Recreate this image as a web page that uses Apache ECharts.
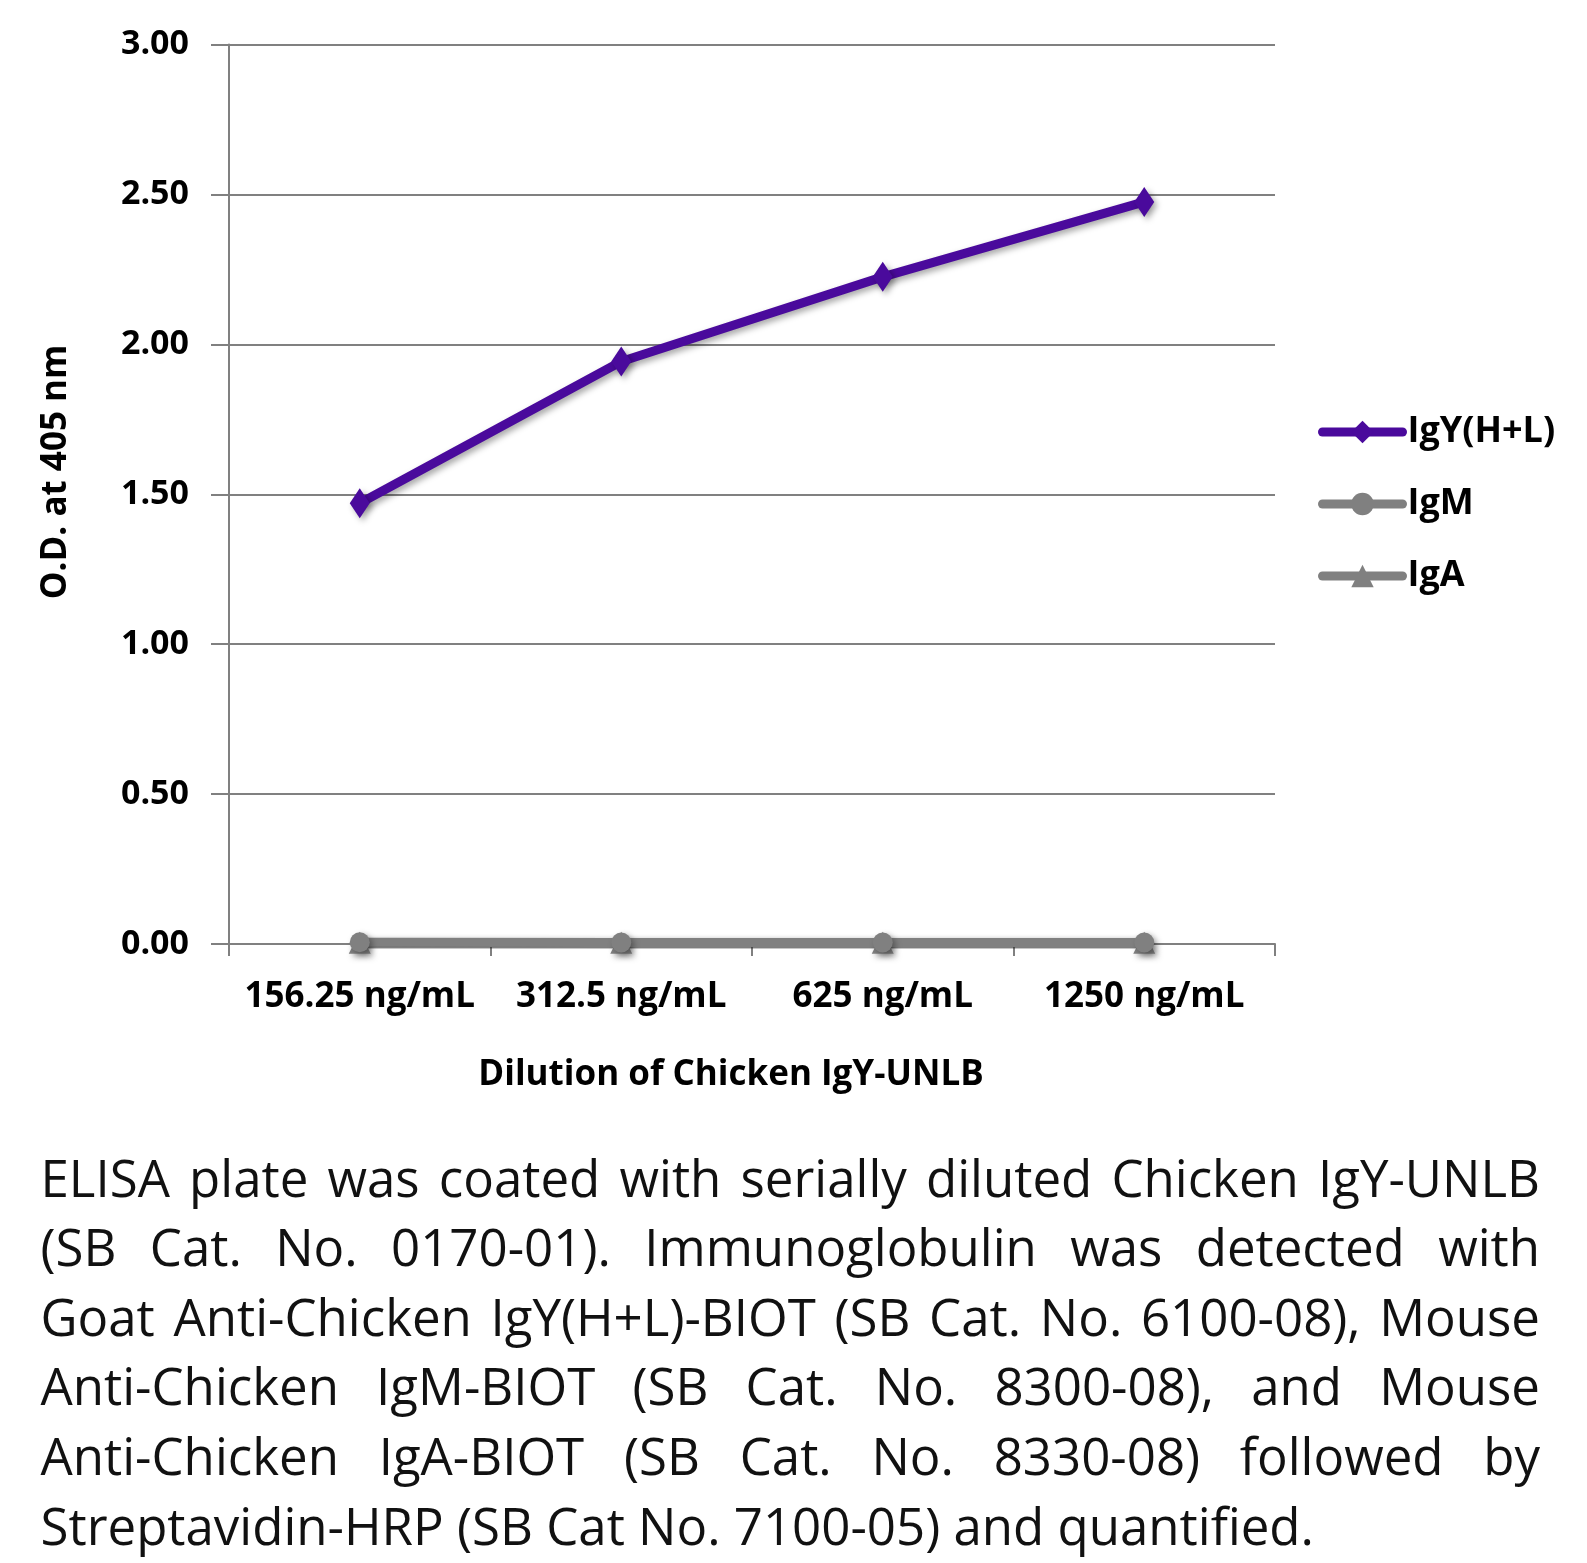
<!DOCTYPE html>
<html><head><meta charset="utf-8">
<script src="https://cdn.jsdelivr.net/npm/echarts@6/dist/echarts.min.js"></script>
<style>html,body{margin:0;padding:0;background:#fff}#c{width:1587px;height:1563px}</style>
</head><body><div id="c"></div>
<script>
const categories = ['156.25 ng/mL', '312.5 ng/mL', '625 ng/mL', '1250 ng/mL'];
const igyValues = [1.47, 1.943, 2.225, 2.475];
const igmValues = [0.006, 0.005, 0.005, 0.005];
const igaValues = [0.004, 0.004, 0.004, 0.004];
const seriesNames = ['IgY(H+L)', 'IgM', 'IgA'];
const yTicks = [0, 0.5, 1, 1.5, 2, 2.5, 3];
const xTitle = 'Dilution of Chicken IgY-UNLB';
const yTitle = 'O.D. at 405 nm';
const captionLines = [
  'ELISA plate was coated with serially diluted Chicken IgY-UNLB',
  '(SB Cat. No. 0170-01).  Immunoglobulin was detected with',
  'Goat Anti-Chicken IgY(H+L)-BIOT (SB Cat. No. 6100-08), Mouse',
  'Anti-Chicken IgM-BIOT (SB Cat. No. 8300-08), and Mouse',
  'Anti-Chicken IgA-BIOT (SB Cat. No. 8330-08) followed by',
  'Streptavidin-HRP (SB Cat No. 7100-05) and quantified.'
];

const FONT = '"Open Sans", "Noto Sans", sans-serif';
const chart = echarts.init(document.getElementById('c'), null, {renderer: 'canvas'});

// caption layout (justified)
const capLeft = 40.5, capRight = 1540, capTop = 1182, capStep = 69.6;
const mctx = document.createElement('canvas').getContext('2d');
function measure(t, s) { mctx.font = s + 'px ' + FONT; return mctx.measureText(t).width; }
let capSize = 54;
let maxW = 0;
captionLines.slice(0, -1).forEach(l => { maxW = Math.max(maxW, measure(l.replace(/\s+/g, ' '), capSize)); });
if (maxW > (capRight - capLeft)) capSize = Math.floor(capSize * (capRight - capLeft) / maxW * 0.985);
const graphics = [];
captionLines.forEach((line, i) => {
  const words = line.split(/\s+/);
  const y = capTop + i * capStep;
  const last = i === captionLines.length - 1;
  const widths = words.map(w => measure(w, capSize));
  const total = widths.reduce((a, b) => a + b, 0);
  const gap = last ? measure(' ', capSize) : (capRight - capLeft - total) / (words.length - 1);
  let x = capLeft;
  words.forEach((w, j) => {
    graphics.push({type: 'text', x: x, y: y, style: {text: w, fontSize: capSize, fontFamily: FONT, fill: '#111', verticalAlign: 'middle', align: 'left'}});
    x += widths[j] + gap;
  });
});
graphics.push({type: 'text', x: 731, y: 1075, style: {text: xTitle, fontSize: 35, fontWeight: 'bold', fontFamily: FONT, fill: '#000', align: 'center', verticalAlign: 'middle'}});
graphics.push({type: 'text', x: 56, y: 472, rotation: Math.PI / 2, style: {text: yTitle, fontSize: 35, fontWeight: 'bold', fontFamily: FONT, fill: '#000', align: 'center', verticalAlign: 'middle'}});

const shadow = {shadowColor: 'rgba(0,0,0,0.35)', shadowBlur: 6, shadowOffsetX: 3, shadowOffsetY: 3};
const gray = '#808080', purple = '#4a0a9c';

chart.setOption({
  animation: false,
  backgroundColor: '#fff',
  grid: {left: 229, right: 312, top: 44.5, bottom: 619, containLabel: false},
  legend: {
    orient: 'vertical', left: 1313, top: 407, itemWidth: 80, itemHeight: 28, itemGap: 32,
    data: seriesNames,
    lineStyle: {width: 9, cap: 'round', shadowBlur: 0, shadowOffsetX: 0, shadowOffsetY: 0},
    itemStyle: {shadowBlur: 0, shadowOffsetX: 0, shadowOffsetY: 0},
    textStyle: {fontSize: 36, fontWeight: 'bold', fontFamily: FONT, color: '#000', lineHeight: 40, padding: 0}
  },
  xAxis: {
    type: 'category', data: categories, boundaryGap: true,
    axisLine: {lineStyle: {color: gray, width: 2}},
    axisTick: {show: true, length: 12, lineStyle: {color: gray, width: 2}},
    axisLabel: {fontSize: 35, fontWeight: 'bold', fontFamily: FONT, color: '#000', margin: 36, interval: 0}
  },
  yAxis: {
    type: 'value', min: yTicks[0], max: yTicks[yTicks.length - 1], interval: 0.5,
    axisLine: {show: true, lineStyle: {color: gray, width: 2}},
    axisTick: {show: true, length: 18, lineStyle: {color: gray, width: 2}},
    splitLine: {show: true, lineStyle: {color: gray, width: 2}},
    axisLabel: {fontSize: 34, fontWeight: 'bold', fontFamily: FONT, color: '#000', margin: 40, formatter: v => v.toFixed(2)}
  },
  series: [
    {name: seriesNames[0], type: 'line', data: igyValues, symbol: 'diamond', symbolSize: [20, 30],
     lineStyle: Object.assign({color: purple, width: 9}, shadow), itemStyle: Object.assign({color: purple}, shadow), z: 5},
    {name: seriesNames[1], type: 'line', data: igmValues, symbol: 'circle', symbolSize: 20,
     lineStyle: Object.assign({color: gray, width: 9}, shadow), itemStyle: Object.assign({color: gray}, shadow), z: 4},
    {name: seriesNames[2], type: 'line', data: igaValues, symbol: 'triangle', symbolSize: 22,
     lineStyle: Object.assign({color: gray, width: 9}, shadow), itemStyle: Object.assign({color: gray}, shadow), z: 3}
  ],
  graphic: graphics
});
</script></body></html>
